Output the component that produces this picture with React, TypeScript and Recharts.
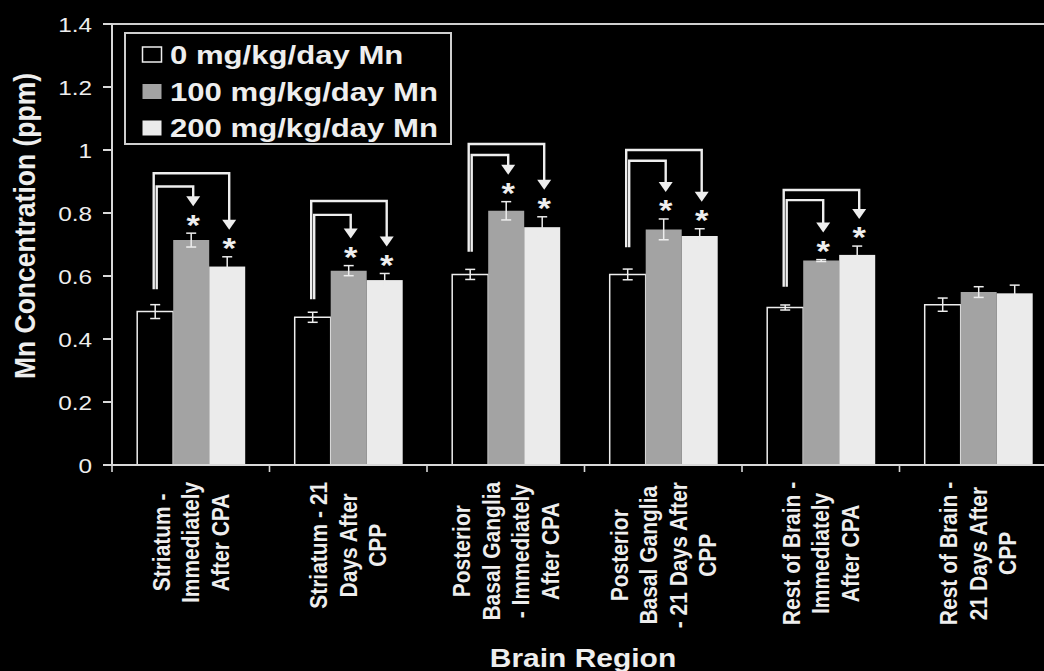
import React from "react";
import { BarChart, Bar, XAxis, YAxis, ErrorBar, ReferenceLine, Legend } from "recharts";

// ---------- data ----------
const categories = [
  "Striatum - Immediately After CPA",
  "Striatum - 21 Days After CPP",
  "Posterior Basal Ganglia - Immediately After CPA",
  "Posterior Basal Ganglia - 21 Days After CPP",
  "Rest of Brain - Immediately After CPA",
  "Rest of Brain - 21 Days After CPP",
];
const categoryLines = [
  ["Striatum -", "Immediately", "After CPA"],
  ["Striatum - 21", "Days After", "CPP"],
  ["Posterior", "Basal Ganglia", "- Immediately", "After CPA"],
  ["Posterior", "Basal Ganglia", "- 21 Days After", "CPP"],
  ["Rest of Brain -", "Immediately", "After CPA"],
  ["Rest of Brain -", "21 Days After", "CPP"],
];
const seriesNames = ["0 mg/kg/day Mn", "100 mg/kg/day Mn", "200 mg/kg/day Mn"];

const mn0 = [0.487, 0.469, 0.605, 0.605, 0.5, 0.509];
const mn0Err = [0.022, 0.016, 0.016, 0.017, 0.008, 0.021];
const mn100 = [0.714, 0.617, 0.807, 0.748, 0.649, 0.549];
const mn100Err = [0.022, 0.016, 0.029, 0.033, 0.003, 0.017];
const mn200 = [0.63, 0.587, 0.755, 0.727, 0.667, 0.545];
const mn200Err = [0.031, 0.021, 0.033, 0.023, 0.028, 0.026];

// significance brackets (value levels), null = no bracket
const bracketOuter: (number | null)[] = [0.926, 0.838, 1.019, 1.0, 0.873, null];
const bracketInner: (number | null)[] = [0.884, 0.794, 0.984, 0.966, 0.841, null];
const bracketLegBottom: (number | null)[] = [0.558, 0.526, 0.677, 0.691, 0.566, null];

const yTicks = [0, 0.2, 0.4, 0.6, 0.8, 1, 1.2, 1.4];

const data = categories.map((name, i) => ({
  name,
  v0: mn0[i],
  e0: mn0Err[i],
  v100: mn100[i],
  e100: mn100Err[i],
  v200: mn200[i],
  e200: mn200Err[i],
}));

// ---------- styles ----------
const FONT = "'Liberation Sans', Arial, Helvetica, sans-serif";
const INK = "#eeeeee";
const AXIS = "#d8d8d8";
const C0 = "#000000";
const C100 = "#a3a3a3";
const C200 = "#ebebeb";

let measureCtx: CanvasRenderingContext2D | null = null;
function textWidth(s: string, fs: number) {
  try {
    if (!measureCtx) measureCtx = document.createElement("canvas").getContext("2d");
    if (measureCtx) {
      measureCtx.font = `bold ${fs}px "Liberation Sans", Arial, sans-serif`;
      return measureCtx.measureText(s).width;
    }
  } catch (e) {}
  return s.length * 0.6 * fs;
}

function YTick(props: any) {
  const { x, y, payload } = props;
  const fs = 21;
  return (
    <g transform={`translate(${x},${y}) scale(1.16,1)`}>
      <text x={0} y={fs * 0.358} textAnchor="end" fontFamily={FONT} fontSize={fs} fill={INK}>
        {String(payload.value)}
      </text>
    </g>
  );
}

function CategoryTick(props: any) {
  const { x, y, payload } = props;
  let idx = typeof payload?.index === "number" ? payload.index : categories.indexOf(payload?.value);
  if (idx < 0) idx = categories.indexOf(payload?.value);
  const lines = categoryLines[idx] || [String(payload?.value)];
  const fs = 21;
  const maxLen = Math.max(...lines.map((l) => textWidth(l, fs)));
  const top = y + 16.7;
  const cy = top + maxLen / 2;
  const step = 29.5;
  const half =
    typeof payload?.offset === "number" && payload.offset > 0
      ? payload.offset
      : (props.width || 945) / (2 * categories.length);
  return (
    <g>
      <line x1={x - half} y1={y} x2={x - half} y2={y + 7} stroke={AXIS} strokeWidth={1.6} />
      {lines.map((l, i) => {
        const sx = x + (i - (lines.length - 1) / 2) * step;
        return (
          <g key={i} transform={`translate(${sx},${cy}) scale(1.14,1) rotate(-90)`}>
            <text x={0} y={fs * 0.358} textAnchor="middle" fontFamily={FONT} fontWeight="bold" fontSize={fs} fill={INK}>
              {l}
            </text>
          </g>
        );
      })}
    </g>
  );
}

function HighDoseShape(props: any) {
  const { x, y, width, height, fill, payload } = props;
  let idx = typeof props.index === "number" ? props.index : categories.indexOf(payload?.name);
  const els: React.ReactNode[] = [<rect key="r" x={x} y={y} width={width} height={height} fill={fill} />];
  const val = mn200[idx];
  const outer = bracketOuter[idx];
  const inner = bracketInner[idx];
  const leg = bracketLegBottom[idx];
  if (outer != null && inner != null && leg != null && val > 0 && height > 0) {
    const base = y + height;
    const ppu = height / val;
    const py = (v: number) => base - v * ppu;
    const c0 = x - 1.5 * width;
    const c1 = x - 0.5 * width + 2;
    const c2 = x + 0.5 * width + 2;
    const tip1 = py(mn100[idx] + mn100Err[idx]) - 27;
    const tip2 = py(mn200[idx] + mn200Err[idx]) - 27;
    const sw = 2.4;
    const ah = 10;
    const aw = 7;
    els.push(
      <path key="o" d={`M${c0 - 1.5},${py(leg)} V${py(outer)} H${c2} V${tip2 - ah + 1}`} fill="none" stroke={INK} strokeWidth={sw} />
    );
    els.push(
      <path key="i" d={`M${c0 + 1.5},${py(leg)} V${py(inner)} H${c1} V${tip1 - ah + 1}`} fill="none" stroke={INK} strokeWidth={sw} />
    );
    els.push(<polygon key="a1" points={`${c1 - aw},${tip1 - ah} ${c1 + aw},${tip1 - ah} ${c1},${tip1}`} fill={INK} />);
    els.push(<polygon key="a2" points={`${c2 - aw},${tip2 - ah} ${c2 + aw},${tip2 - ah} ${c2},${tip2}`} fill={INK} />);
    const afs = 30;
    els.push(
      <g key="s1" transform={`translate(${c1},${tip1 + 11 + afs * 0.58}) scale(1.15,1)`}>
        <text x={0} y={0} textAnchor="middle" fontFamily={FONT} fontWeight="bold" fontSize={afs} fill={INK}>*</text>
      </g>
    );
    els.push(
      <g key="s2" transform={`translate(${c2},${tip2 + 11 + afs * 0.58}) scale(1.15,1)`}>
        <text x={0} y={0} textAnchor="middle" fontFamily={FONT} fontWeight="bold" fontSize={afs} fill={INK}>*</text>
      </g>
    );
  }
  return <g>{els}</g>;
}

function LegendBox() {
  const fills = [C0, C100, C200];
  const centers = [22.5, 59.5, 96];
  const fs = 25.5;
  return (
    <svg width={328} height={113} style={{ display: "block" }}>
      <rect x={1} y={1} width={326} height={111} fill="#000" stroke="#cfcfcf" strokeWidth={2} />
      {seriesNames.map((n, i) => (
        <g key={n}>
          <rect
            x={18.5}
            y={centers[i] - 7.5}
            width={19}
            height={15}
            fill={fills[i]}
            stroke={i === 0 ? INK : "none"}
            strokeWidth={1.5}
          />
          <g transform={`translate(46,${centers[i] + fs * 0.358}) scale(1.22,1)`}>
            <text x={0} y={0} fontFamily={FONT} fontWeight="bold" fontSize={fs} fill={INK}>
              {n}
            </text>
          </g>
        </g>
      ))}
    </svg>
  );
}

function YTitle() {
  const fs = 26.5;
  return (
    <g transform={`translate(25,226) scale(1.08,1) rotate(-90)`}>
      <text x={0} y={fs * 0.358} textAnchor="middle" fontFamily={FONT} fontWeight="bold" fontSize={fs} fill={INK}>
        Mn Concentration (ppm)
      </text>
    </g>
  );
}

function XTitle() {
  const fs = 25.6;
  return (
    <g transform={`translate(583,666.5) scale(1.17,1)`}>
      <text x={0} y={0} textAnchor="middle" fontFamily={FONT} fontWeight="bold" fontSize={fs} fill={INK}>
        Brain Region
      </text>
    </g>
  );
}

export default function App() {
  return (
    <div
      style={{
        position: "fixed",
        left: 0,
        top: 0,
        width: 1044,
        height: 671,
        overflow: "hidden",
        background: "#000",
      }}
    >
      <BarChart
        width={1060}
        height={671}
        data={data}
        margin={{ top: 24, right: 3, bottom: 0, left: 0 }}
        barCategoryGap="16%"
        barGap={0}
      >
        <XAxis
          dataKey="name"
          type="category"
          interval={0}
          height={206}
          tickSize={0}
          tickMargin={0}
          tickLine={false}
          axisLine={{ stroke: AXIS, strokeWidth: 2 }}
          tick={<CategoryTick />}
          label={{ content: () => <XTitle /> }}
        />
        <YAxis
          type="number"
          domain={[0, 1.4]}
          ticks={yTicks}
          interval={0}
          width={112}
          tickSize={9}
          tickMargin={11}
          tickLine={{ stroke: AXIS, strokeWidth: 2 }}
          axisLine={{ stroke: AXIS, strokeWidth: 2 }}
          tick={<YTick />}
          label={{ content: () => <YTitle /> }}
        />
        <ReferenceLine y={1.4} stroke="#cfcfcf" strokeWidth={2} />
        <Legend
          layout="vertical"
          align="center"
          verticalAlign="middle"
          content={() => <LegendBox />}
          wrapperStyle={{ left: 124, top: 32, width: 328, height: 113 }}
        />
        <Bar dataKey="v0" name={seriesNames[0]} fill={C0} stroke={INK} strokeWidth={1.5} isAnimationActive={false}>
          <ErrorBar dataKey="e0" direction="y" width={5} stroke={INK} strokeWidth={1.5} />
        </Bar>
        <Bar dataKey="v100" name={seriesNames[1]} fill={C100} isAnimationActive={false}>
          <ErrorBar dataKey="e100" direction="y" width={5} stroke={INK} strokeWidth={1.5} />
        </Bar>
        <Bar
          dataKey="v200"
          name={seriesNames[2]}
          fill={C200}
          isAnimationActive={false}
          shape={(p: any) => <HighDoseShape {...p} />}
        >
          <ErrorBar dataKey="e200" direction="y" width={5} stroke={C200} strokeWidth={1.5} />
        </Bar>
      </BarChart>
    </div>
  );
}
